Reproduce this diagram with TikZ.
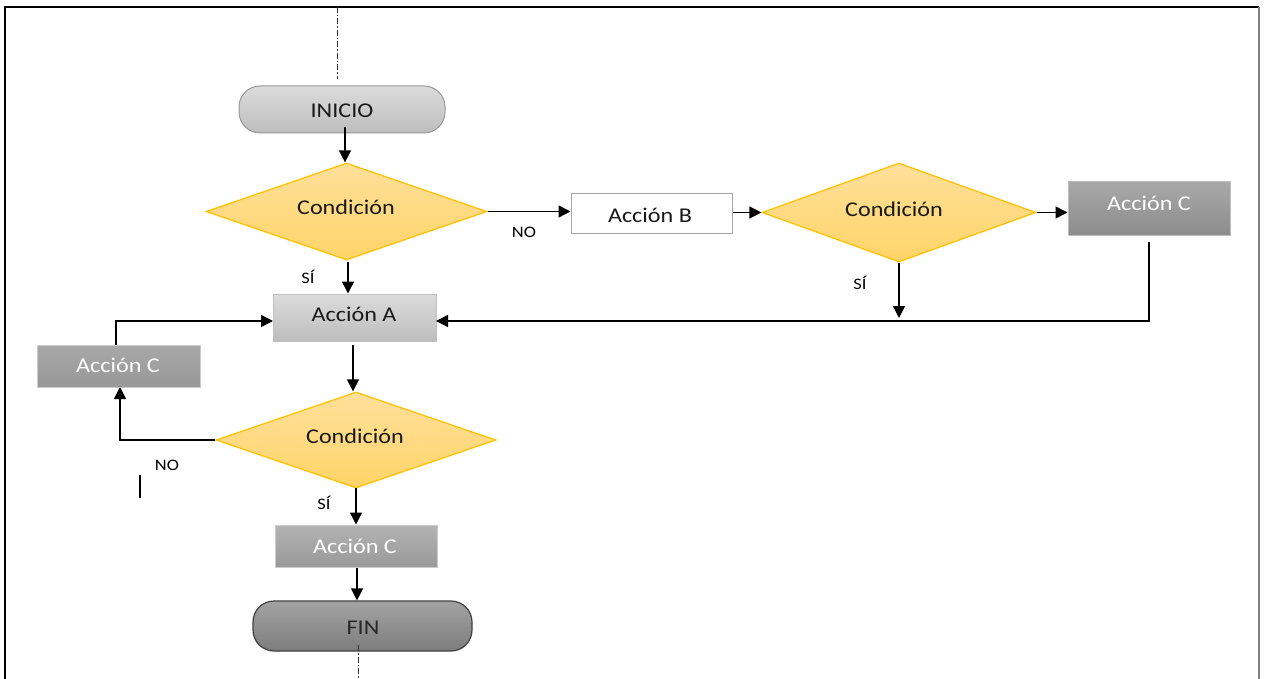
\documentclass[tikz,border=0pt]{standalone}
\usepackage{fontspec}
\setmainfont{Carlito}[FakeStretch=1.15]
\usetikzlibrary{shapes.geometric,arrows.meta}
\definecolor{gA}{HTML}{DCDCDC}
\definecolor{gB}{HTML}{BDBDBD}
\definecolor{gC}{HTML}{A8A8A8}
\definecolor{gD}{HTML}{8C8C8C}
\definecolor{gE}{HTML}{B3B3B3}
\definecolor{gF}{HTML}{999999}
\definecolor{finA}{HTML}{A3A3A3}
\definecolor{finB}{HTML}{7D7D7D}
\definecolor{yA}{HTML}{FFE09B}
\definecolor{yB}{HTML}{FFD468}
\definecolor{yLine}{HTML}{FFC000}
\begin{document}
\begin{tikzpicture}[x=1pt,y=-1pt,
  txt/.style={font=\fontsize{21}{24}\selectfont, inner sep=0pt, text=black!90},
  wtxt/.style={txt, text=white},
  small/.style={font=\fontsize{16}{18}\selectfont, inner sep=0pt},
  term/.style={rectangle, rounded corners=21pt, line width=1pt, inner sep=0pt},
  boxA/.style={rectangle, line width=1pt, inner sep=0pt},
  dia/.style={diamond, aspect=2.9, inner sep=0pt, draw=yLine, line width=1.2pt, top color=yA, bottom color=yB},
  arr/.style={-{Triangle[length=12pt,width=12pt]}, line width=1.4pt},
  ln/.style={line width=1.4pt},
  dd/.style={line width=1pt, black!80, dash pattern=on 6pt off 2pt on 1.5pt off 2pt}
]
\useasboundingbox (0,0) rectangle (1264,679);
% frame
\draw[line width=1.6pt] (5,679) -- (5,7) -- (1259,7);
\draw[line width=2.2pt, black!50] (1259,7) -- (1259,679);

% nodes
\node[term, draw=gB!80!black, top color=gA, bottom color=gB, minimum width=206pt, minimum height=47pt] (inicio) at (342,109.5) {};
\node[txt] (inicioT) at (342,111) {INICIO};

\node[dia, minimum width=281pt, minimum height=97pt] (d1) at (346.5,211.5) {};
\node[txt] (d1T) at (346,207) {Condición};

\node[boxA, draw=black!35, fill=white, minimum width=161pt, minimum height=40pt] (accB) at (651.5,214) {};
\node[txt] (accBT) at (650,215) {Acción B};

\node[dia, minimum width=274pt, minimum height=99pt] (d2) at (899,212.5) {};
\node[txt] (d2T) at (894,209) {Condición};

\node[boxA, draw=black!25, top color=gC, bottom color=gD, minimum width=162pt, minimum height=54pt] (cTR) at (1149,209) {};
\node[wtxt] (cTRT) at (1149,203) {Acción C};

\node[boxA, draw=black!25, top color=gA, bottom color=gB, minimum width=163pt, minimum height=47pt] (accA) at (354.5,317.5) {};
\node[txt] (accAT) at (354,314) {Acción A};

\node[boxA, draw=black!20, top color=gC, bottom color=gD!90!white, minimum width=163pt, minimum height=42pt] (cL) at (118.5,366) {};
\node[wtxt] (cLT) at (118,365) {Acción C};

\node[dia, minimum width=280pt, minimum height=96pt] (d3) at (356,440) {};
\node[txt] (d3T) at (355,436) {Condición};

\node[boxA, draw=black!20, top color=gE, bottom color=gF, minimum width=162pt, minimum height=42pt] (cB) at (356,546) {};
\node[wtxt] (cBT) at (355,546) {Acción C};

\node[term, draw=black!75, line width=1.2pt, top color=finA, bottom color=finB, minimum width=219pt, minimum height=50pt] (fin) at (362.5,626) {};
\node[txt, text=black!85] (finT) at (363,628) {FIN};

% dash-dot lines
\coordinate (topEnd) at (337,7);
\draw[dd, shorten >=6pt] (topEnd) -- (inicio.north -| topEnd);
\coordinate (botEnd) at (358,679);
\coordinate (botStart) at (358,645);
\draw[dd] (botStart) -- (botEnd);

% connectors
\coordinate (a1) at (345,127);
\draw[arr] (a1) -- (a1 |- d1.north);
\draw[arr] (d1.east) -- (d1.east -| accB.west);
\draw[arr] (accB.east |- d2.west) -- (d2.west);
\draw[arr] (d2.east) -- (d2.east -| cTR.west);
\coordinate (cTRb) at (1149,242);
\coordinate (lineA) at (436,321);
\draw[arr] (cTRb) |- (lineA);
\coordinate (d2end) at (899,318);
\draw[arr] (d2.south) -- (d2end);
\coordinate (s1) at (348,262);
\draw[arr] (s1) -- (s1 |- accA.north);
\coordinate (s2) at (353,345);
\draw[arr] (s2) -- (s2 |- d3.north);
\coordinate (cLb) at (120,387);
\draw[arr] (d3.west) -| (cLb);
\coordinate (cLt) at (116,345);
\coordinate (accAw) at (273,321);
\draw[arr] (cLt) |- (accAw);
\coordinate (s3) at (356,488);
\draw[arr] (s3) -- (s3 |- cB.north);
\coordinate (s4) at (357,568);
\draw[arr] (s4) -- (s4 |- fin.north);
\draw[ln] (140,475) -- (140,498);

% labels
\node[small] (no1) at (524,232) {NO};
\node[small] (si1) at (308,277) {SÍ};
\node[small] (si2) at (860,283) {SÍ};
\node[small] (no2) at (167,465) {NO};
\node[small] (si3) at (324,503) {SÍ};
\end{tikzpicture}
\end{document}
